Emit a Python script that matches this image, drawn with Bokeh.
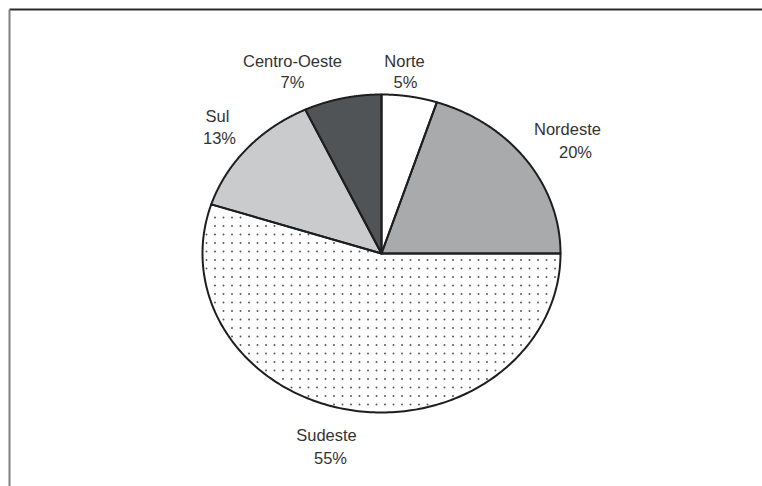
import numpy as np
from bokeh.plotting import figure
from bokeh.models import Range1d, ColumnDataSource
from bokeh.core.properties import value
from bokeh.embed import file_html
from bokeh.resources import INLINE

# ---- data ----
regions = ["Norte", "Nordeste", "Sudeste", "Sul", "Centro-Oeste"]
shares = [5, 20, 55, 13, 7]
fill_colors = ["#ffffff", "#a8aaac", "#ffffff", "#c9cbcc", "#515457"]
dotted = [False, False, True, False, False]

# ---- layout (pixel space) ----
W, H = 762, 486
cx, cy, rx, ry = 381, 253, 179, 159
name_pos = {"Norte": (404, 60), "Nordeste": (567, 128), "Sudeste": (326, 434),
            "Sul": (217, 115), "Centro-Oeste": (292, 60)}
pct_pos = {"Norte": (405, 81), "Nordeste": (575, 151), "Sudeste": (330, 457),
           "Sul": (219, 137), "Centro-Oeste": (292, 81)}
DOT_STEP = 8.5

p = figure(width=W, height=H, x_range=Range1d(0, W), y_range=Range1d(H, 0),
           output_backend="svg", toolbar_location=None, min_border=0)
p.axis.visible = False
p.grid.visible = False
p.outline_line_color = None
p.background_fill_color = "#ffffff"
p.border_fill_color = "#ffffff"

# slices from the share values (clockwise from 12 o'clock, elliptical pie)
fr = np.array(shares, dtype=float) / sum(shares)
cum = np.concatenate([[0], np.cumsum(fr)])
xs, ys = [], []
for i in range(len(shares)):
    t = np.linspace(cum[i], cum[i + 1], 200) * 2 * np.pi
    xs.append([cx] + list(cx + rx * np.sin(t)) + [cx])
    ys.append([cy] + list(cy - ry * np.cos(t)) + [cy])

src = ColumnDataSource(dict(xs=xs, ys=ys, color=fill_colors))
p.patches("xs", "ys", source=src, fill_color="color", line_color=None)

# dot texture for the dotted slice(s)
gx, gy = np.meshgrid(np.arange(cx - rx + 4, cx + rx, DOT_STEP),
                     np.arange(cy - ry + 4, cy + ry, DOT_STEP))
gx, gy = gx.ravel(), gy.ravel()
u, v = (gx - cx) / rx, (cy - gy) / ry
ang = np.mod(np.arctan2(u, v), 2 * np.pi) / (2 * np.pi)
inside = (u ** 2 + v ** 2) < 0.975
dx_pts, dy_pts = [], []
for i, d in enumerate(dotted):
    if d:
        m = inside & (ang > cum[i] + 0.004) & (ang < cum[i + 1] - 0.004)
        dx_pts += list(gx[m])
        dy_pts += list(gy[m])
p.scatter(dx_pts, dy_pts, size=2, color="#5a5a5a", line_color=None)

# slice outlines on top
p.patches(xs, ys, fill_color=None, line_color="#1e1e1e", line_width=2,
          line_join="round")

# labels
nx = [name_pos[r][0] for r in regions]
ny = [name_pos[r][1] for r in regions]
px = [pct_pos[r][0] for r in regions]
py = [pct_pos[r][1] for r in regions]
pct = [f"{v}%" for v in shares]
for X, Y, T in ((nx, ny, regions), (px, py, pct)):
    p.text(X, Y, text=T, text_align="center", text_baseline="middle",
           text_font=value("Liberation Sans"), text_font_size="16.5px",
           text_color="#333333")

# frame lines (top and left edges of the figure box)
p.segment(x0=[9, 9], y0=[9, 9], x1=[W, 9], y1=[9, H],
          line_color=["#2a2a2a", "#808080"], line_width=2)

open("out.html", "w").write(file_html(p, INLINE))
